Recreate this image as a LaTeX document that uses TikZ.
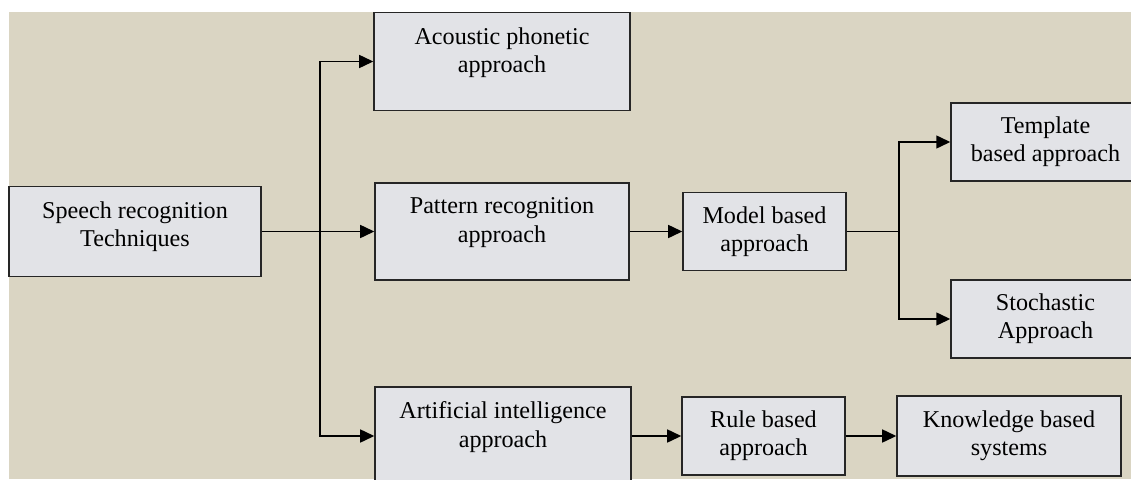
\documentclass[tikz,border=0pt]{standalone}
\usepackage{fontspec}
\setmainfont{Liberation Serif}
\usetikzlibrary{positioning, arrows.meta}
\definecolor{paper}{RGB}{218,213,195}
\definecolor{marble}{RGB}{226,227,231}
\begin{document}
\begin{tikzpicture}[x=0.03cm, y=-0.03cm, font=\fontsize{20.6}{24}\selectfont, >={Triangle[length=12pt, width=11pt]}, line width=1.6pt,
  b/.style={draw=black!85, line width=1.2pt, fill=marble, align=center, inner sep=0pt, minimum width=4.89cm, minimum height=2.34cm},
  tall/.style={b, text depth=19.7pt}]
  \useasboundingbox (0,0) rectangle (1131,479);
  \fill[paper] (9,12) rectangle (1131,479);
  \node[b, text depth=13pt, minimum width=7.56cm, minimum height=2.7cm] (src) at (135,231.5) {Speech recognition\\Techniques};
  \node[tall, minimum width=7.68cm, minimum height=2.94cm] (ac) at (502,61.5) {Acoustic phonetic\\approach};
  \node[tall, minimum width=7.62cm, minimum height=2.91cm] (pr) at (502,231.5) {Pattern recognition\\approach};
  \node[tall, minimum width=7.68cm, minimum height=2.94cm] (ai) at (503,436) {Artificial intelligence\\approach};
  \node[b] (mb) at (764.5,231.5) {Model based\\approach};
  \node[b, minimum width=5.67cm] (tb) at (1045.5,142) {Template\\based approach};
  \node[b, minimum width=5.67cm] (st) at (1045.5,319) {Stochastic\\Approach};
  \node[b] (rb) at (763.5,436) {Rule based\\approach};
  \node[b, minimum width=6.72cm, minimum height=2.4cm] (kb) at (1009,436) {Knowledge based\\systems};
  \coordinate (jn) at (320,231.5);
  \coordinate (sp) at (899,231.5);
  \draw[->] (src) -- (pr);
  \draw[->] (jn) |- (ac.west);
  \draw[->] (jn) |- (ai.west);
  \draw[->] (pr) -- (mb);
  \draw[line width=0.9pt] (mb) -- (sp);
  \draw[->] (sp) |- (tb.west);
  \draw[->] (sp) |- (st.west);
  \draw[->] (ai) -- (rb);
  \draw[->] (rb) -- (kb);
\end{tikzpicture}
\end{document}
